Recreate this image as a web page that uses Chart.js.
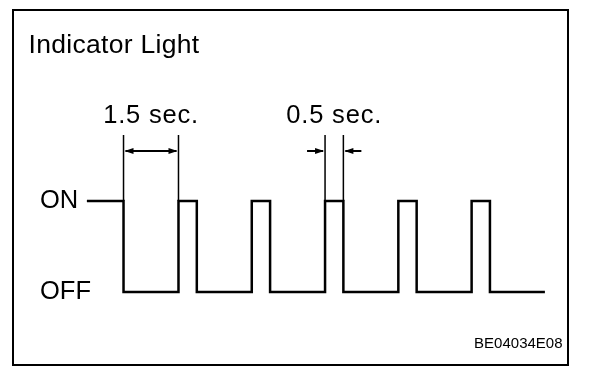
<!DOCTYPE html>
<html>
<head>
<meta charset="utf-8">
<script src="https://cdn.jsdelivr.net/npm/chart.js@4.4.0/dist/chart.umd.min.js"></script>
<style>
html, body { margin: 0; padding: 0; background: #fff; }
#wrap { width: 608px; height: 374px; }
canvas { display: block; }
</style>
</head>
<body>
<div id="wrap"><canvas id="c" width="608" height="374"></canvas></div>
<script>
// ---- data ----
const titleText = 'Indicator Light';
const figureCode = 'BE04034E08';
const stateLabels = ['OFF', 'ON'];
// time (s) at which the light changes state, and the state it changes to
const transitionTimes = [-1.0, 0, 1.5, 2.0, 3.5, 4.0, 5.5, 6.0, 7.5, 8.0, 9.5, 10.0, 11.5];
const lightStates     = [1,    0, 1,   0,   1,   0,   1,   0,   1,   0,   1,   0,    0];
// dimension annotations
const dimensionLabels = ['1.5 sec.', '0.5 sec.'];
const dimensionStarts = [0, 5.5];
const dimensionEnds   = [1.5, 6.0];
const dimensionArrowStyles = ['inside', 'outside'];

const FONT = '"Liberation Sans", Arial, Helvetica, sans-serif';

function arrowHead(ctx, tipX, tipY, dir) {
  // dir = -1 points left, +1 points right
  ctx.beginPath();
  ctx.moveTo(tipX, tipY);
  ctx.lineTo(tipX - dir * 9, tipY - 3);
  ctx.lineTo(tipX - dir * 9, tipY + 3);
  ctx.closePath();
  ctx.fill();
}

const annotate = {
  id: 'annotate',
  afterDraw(chart) {
    const { ctx } = chart;
    const xs = chart.scales.x, ys = chart.scales.y;
    ctx.save();
    ctx.strokeStyle = '#000';
    ctx.fillStyle = '#000';

    // frame
    ctx.lineWidth = 2;
    ctx.strokeRect(13, 10, 555, 355);

    // title
    ctx.font = '26.5px ' + FONT;
    if ('letterSpacing' in ctx) ctx.letterSpacing = '0.3px';
    ctx.textAlign = 'left';
    ctx.textBaseline = 'alphabetic';
    ctx.fillText(titleText, 28.5, 53);

    // figure code
    ctx.font = '15px ' + FONT;
    if ('letterSpacing' in ctx) ctx.letterSpacing = '0px';
    ctx.textAlign = 'right';
    ctx.fillText(figureCode, 562.5, 348);

    // dimension lines
    const yOn = ys.getPixelForValue(1);
    const extTop = yOn - 66;
    const arrowY = yOn - 50;
    dimensionLabels.forEach((label, i) => {
      const x0 = xs.getPixelForValue(dimensionStarts[i]);
      const x1 = xs.getPixelForValue(dimensionEnds[i]);
      ctx.lineWidth = 1.5;
      ctx.beginPath();
      ctx.moveTo(x0, extTop); ctx.lineTo(x0, yOn);
      ctx.moveTo(x1, extTop); ctx.lineTo(x1, yOn);
      ctx.stroke();

      ctx.lineWidth = 2;
      if (dimensionArrowStyles[i] === 'inside') {
        ctx.beginPath();
        ctx.moveTo(x0 + 2, arrowY); ctx.lineTo(x1 - 2, arrowY);
        ctx.stroke();
        arrowHead(ctx, x0 + 1, arrowY, -1);
        arrowHead(ctx, x1 - 1, arrowY, 1);
      } else {
        ctx.beginPath();
        ctx.moveTo(x0 - 18, arrowY); ctx.lineTo(x0 - 2, arrowY);
        ctx.moveTo(x1 + 2, arrowY); ctx.lineTo(x1 + 18, arrowY);
        ctx.stroke();
        arrowHead(ctx, x0 - 1, arrowY, 1);
        arrowHead(ctx, x1 + 1, arrowY, -1);
      }

      ctx.font = '25.5px ' + FONT;
      if ('letterSpacing' in ctx) ctx.letterSpacing = '0.8px';
      ctx.textAlign = 'center';
      ctx.fillText(label, (x0 + x1) / 2, yOn - 78);
    });
    ctx.restore();
  }
};

new Chart(document.getElementById('c'), {
  type: 'line',
  data: {
    datasets: [{
      data: transitionTimes.map((t, i) => ({ x: t, y: lightStates[i] })),
      stepped: 'before',
      borderColor: '#000',
      borderWidth: 2.5,
      borderJoinStyle: 'miter',
      borderCapStyle: 'butt',
      pointRadius: 0,
      fill: false,
      clip: false
    }]
  },
  options: {
    responsive: false,
    animation: false,
    devicePixelRatio: 1,
    events: [],
    layout: { padding: { left: 13.6, right: 63.1, top: 155.5, bottom: 45.6 } },
    plugins: {
      legend: { display: false },
      tooltip: { enabled: false },
      title: { display: false }
    },
    scales: {
      x: { type: 'linear', display: false, min: -3, max: 11.5 },
      y: {
        type: 'linear',
        position: 'left',
        min: -0.4,
        max: 1.5,
        grid: { display: false, drawTicks: false },
        border: { display: false },
        afterBuildTicks: s => { s.ticks = [0, 1].map(v => ({ value: v })); },
        afterFit: s => { s.width = 0; },
        ticks: {
          mirror: true,
          padding: 26.4,
          color: '#000',
          font: { family: FONT, size: 25.5 },
          callback: v => stateLabels[v]
        }
      }
    }
  },
  plugins: [annotate]
});
</script>
</body>
</html>
